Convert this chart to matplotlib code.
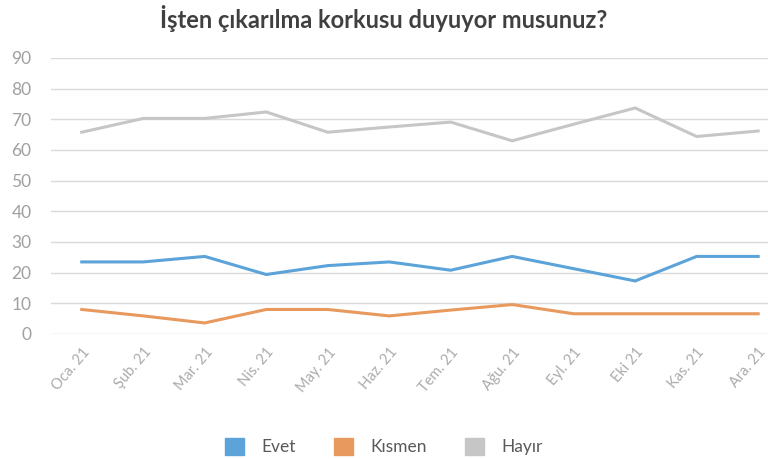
import matplotlib.pyplot as plt
from matplotlib.patches import Patch

months = ["Oca. 21", "Şub. 21", "Mar. 21", "Nis. 21", "May. 21", "Haz. 21",
          "Tem. 21", "Ağu. 21", "Eyl. 21", "Eki 21", "Kas. 21", "Ara. 21"]
evet = [23.5, 23.5, 25.3, 19.4, 22.3, 23.5, 20.8, 25.3, 21.3, 17.3, 25.3, 25.3]
kismen = [8.0, 5.9, 3.6, 8.0, 8.0, 5.9, 7.8, 9.6, 6.6, 6.6, 6.6, 6.6]
hayir = [65.8, 70.3, 70.3, 72.4, 65.8, 67.5, 69.1, 63.0, 68.4, 73.7, 64.4, 66.2]

series = [("Evet", evet, "#5ba3d9"), ("Kısmen", kismen, "#e8995e"), ("Hayır", hayir, "#c6c6c6")]

plt.rcParams['font.family'] = ['Lato', 'DejaVu Sans']

fig = plt.figure(figsize=(7.68, 4.59), dpi=100)
ax = fig.add_axes([51/768, 125/459, 717/768, 276/459])

x = range(len(months))
for name, vals, col in series[::-1]:
    ax.plot(x, vals, color=col, linewidth=2.2, solid_joinstyle='miter')

ax.set_xlim(-0.5, 11.16)
ax.set_ylim(0, 90)
ax.set_yticks(range(0, 91, 10))
ax.grid(axis='y', color='#d9d9d9', linewidth=1)
ax.set_axisbelow(True)
for s in ax.spines.values():
    s.set_visible(False)
ax.tick_params(axis='both', length=0, colors='#999999')
ax.tick_params(axis='y', labelsize=12.5, pad=14)
ax.set_xticks(list(x))
ax.set_xticklabels(months, rotation=50, ha='right', rotation_mode='anchor',
                   fontsize=10.5, color='#ababab')
ax.tick_params(axis='x', pad=8)
for lbl in ax.get_yticklabels():
    lbl.set_color('#a0a0a0')

fig.suptitle("İşten çıkarılma korkusu duyuyor musunuz?", x=0.5, y=0.99,
             fontsize=17, fontweight='bold', color='#404040')

handles = [Patch(facecolor=c, edgecolor=c, label=n) for n, _, c in series]
fig.legend(handles=handles, loc='center', bbox_to_anchor=(0.5, 0.027), ncol=3,
           frameon=False, fontsize=12.5, handlelength=1.1, handleheight=1.1,
           columnspacing=2.2, handletextpad=1.0, labelcolor='#595959')

fig.savefig("out.png", dpi=100)
